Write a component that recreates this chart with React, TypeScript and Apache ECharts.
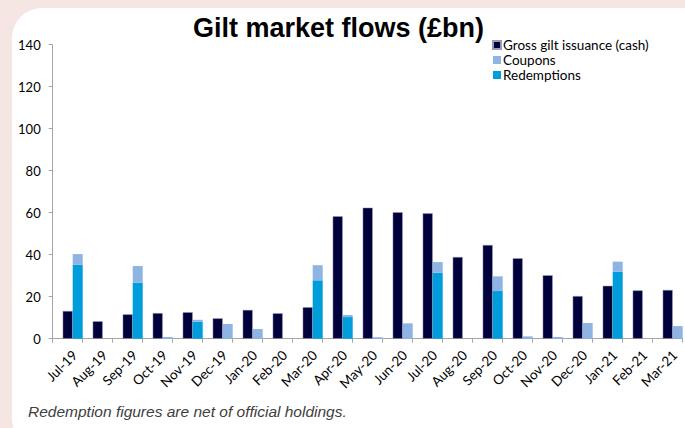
import React, { useEffect, useRef } from "react";
import * as echarts from "echarts";

const months = ["Jul-19","Aug-19","Sep-19","Oct-19","Nov-19","Dec-19","Jan-20","Feb-20","Mar-20","Apr-20","May-20","Jun-20","Jul-20","Aug-20","Sep-20","Oct-20","Nov-20","Dec-20","Jan-21","Feb-21","Mar-21"];
const grossIssuance = [13.2, 8.3, 11.6, 12.2, 12.6, 9.7, 13.7, 12.1, 15.0, 58.3, 62.4, 60.2, 59.7, 38.9, 44.6, 38.3, 30.2, 20.3, 25.2, 23.0, 23.2];
const redemptions = [35.2, 0, 26.7, 0, 8.1, 0, 0, 0, 27.8, 10.3, 0, 0, 31.4, 0, 22.7, 0, 0, 0, 31.9, 0, 0];
const coupons = [5.1, 0, 7.9, 0.8, 0.9, 7.0, 4.6, 0, 7.2, 1.0, 0.7, 7.3, 5.1, 0, 7.0, 1.1, 0.8, 7.5, 4.8, 0, 6.0];
const yTicks = { min: 0, max: 140, interval: 20 };

const FONT = "Lato, 'Open Sans', sans-serif";

export default function App() {
  const ref = useRef<HTMLDivElement>(null);
  useEffect(() => {
    if (!ref.current) return;
    const chart = echarts.init(ref.current, null, { renderer: "svg" });
    chart.setOption({
      animation: false,
      backgroundColor: "transparent",
      graphic: [
        {
          type: "text",
          left: 340 - 147,
          top: 14,
          style: {
            text: "Gilt market flows (£bn)",
            font: "bold 27px 'Liberation Sans', Arial, sans-serif",
            fill: "#000",
          },
        },
        {
          type: "text",
          left: 28,
          top: 403,
          style: {
            text: "Redemption figures are net of official holdings.",
            font: "italic 15.5px 'Liberation Sans', Arial, sans-serif",
            fill: "#404040",
          },
        },
      ],
      legend: {
        orient: "vertical",
        left: 487,
        top: 33,
        itemWidth: 8,
        itemHeight: 8,
        itemGap: 1,
        icon: "rect",
        data: ["Gross gilt issuance (cash)", "Coupons", "Redemptions"],
        textStyle: { fontFamily: FONT, fontSize: 13.5, color: "#000", padding: [0, 0, 0, -3] },
      },
      grid: { left: 52.7, right: 2.3, top: 44.7, bottom: 89.3, containLabel: false },
      xAxis: {
        type: "category",
        data: months,
        axisLine: { lineStyle: { color: "#a6a6a6", width: 1 } },
        axisTick: { show: true, length: 4, lineStyle: { color: "#a6a6a6" } },
        axisLabel: {
          rotate: 45,
          fontFamily: FONT,
          fontSize: 13.5,
          color: "#000",
          margin: 7,
          interval: 0,
          verticalAlign: "top",
          padding: [3, 0, 0, 0],
        },
        splitLine: { show: false },
      },
      yAxis: {
        type: "value",
        min: yTicks.min,
        max: yTicks.max,
        interval: yTicks.interval,
        axisLine: { show: true, lineStyle: { color: "#a6a6a6", width: 1 } },
        axisTick: { show: true, length: 4, lineStyle: { color: "#a6a6a6" } },
        axisLabel: { fontFamily: FONT, fontSize: 13, color: "#000", margin: 12 },
        splitLine: { show: false },
      },
      series: [
        {
          name: "_pad",
          type: "bar",
          barWidth: 10,
          barGap: "0%",
          data: months.map(() => null),
          silent: true,
        },
        {
          name: "Gross gilt issuance (cash)",
          type: "bar",
          barWidth: 10,
          barGap: "0%",
          data: grossIssuance,
          itemStyle: { color: "#00003c", borderColor: "#9a9ab8", borderWidth: 0.5 },
        },
        {
          name: "Redemptions",
          type: "bar",
          stack: "flows",
          barWidth: 10,
          barGap: "0%",
          data: redemptions,
          itemStyle: { color: "#009ddc" },
        },
        {
          name: "Coupons",
          type: "bar",
          stack: "flows",
          barWidth: 10,
          barGap: "0%",
          data: coupons,
          itemStyle: { color: "#8eb4e3" },
        },
      ],
    });
    return () => chart.dispose();
  }, []);

  return (
    <div style={{ position: "fixed", left: 0, top: 0, width: 685, height: 428, background: "#f5e6e3", overflow: "hidden" }}>
      <div style={{ position: "absolute", left: 12, top: 8, width: 700, height: 440, background: "#fff", borderRadius: 30 }} />
      <div ref={ref} style={{ position: "absolute", left: 0, top: 0, width: 685, height: 428 }} />
    </div>
  );
}
